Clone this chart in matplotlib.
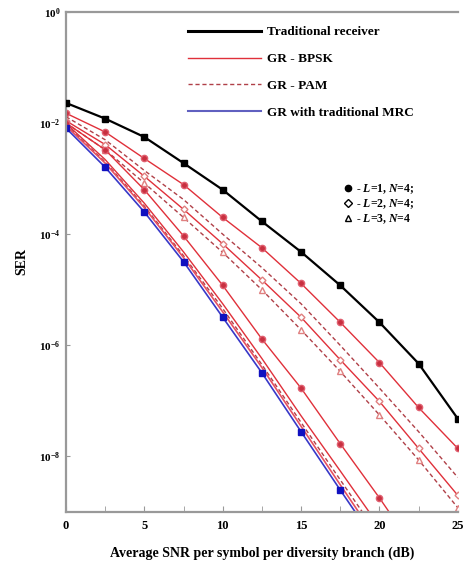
import numpy as np
import matplotlib
matplotlib.use('Agg')
import matplotlib.pyplot as plt
from matplotlib.lines import Line2D
from matplotlib.ticker import FixedLocator, NullLocator

plt.rcParams['font.family'] = ['Liberation Serif', 'DejaVu Serif']
plt.rcParams['font.weight'] = 'bold'
plt.rcParams['mathtext.fontset'] = 'custom'
plt.rcParams['mathtext.rm'] = 'Liberation Serif:bold'
plt.rcParams['mathtext.it'] = 'Liberation Serif:bold:italic'
plt.rcParams['mathtext.bf'] = 'Liberation Serif:bold'

# SNR points (dB)
snr = [0, 2.5, 5, 7.5, 10, 12.5, 15, 17.5, 20, 22.5, 25]

# traditional receiver
ser_trad = [2.3e-2, 1.2e-2, 5.6e-3, 1.9e-3, 6.3e-4, 1.7e-4, 4.8e-5, 1.2e-5, 2.6e-6, 4.7e-7, 4.8e-8]

# upper group of GR curves
ser_bpsk_l1 = [1.5e-2, 6.9e-3, 2.3e-3, 7.8e-4, 2.0e-4, 5.7e-5, 1.3e-5, 2.6e-6, 4.9e-7, 7.6e-8, 1.4e-8]
ser_pam_l1 = [1.3e-2, 5.0e-3, 1.4e-3, 4.2e-4, 1.0e-4, 2.5e-5, 5.6e-6, 1.0e-6, 1.7e-7, 2.8e-8, 4.2e-9]
ser_bpsk_l2 = [1.1e-2, 4.1e-3, 1.1e-3, 2.8e-4, 6.7e-5, 1.5e-5, 3.2e-6, 5.5e-7, 9.8e-8, 1.4e-8, 2.0e-9]
ser_pam_l2 = [1.0e-2, 3.3e-3, 8.3e-4, 2.0e-4, 4.7e-5, 1.0e-5, 1.9e-6, 3.4e-7, 5.6e-8, 8.7e-9, 1.2e-9]

# lower group
snr_low = [0, 2.5, 5, 7.5, 10, 12.5, 15, 17.5, 20, 22.5]
ser_bpsk_l3 = [1.0e-2, 3.3e-3, 6.3e-4, 9.3e-5, 1.2e-5, 1.3e-6, 1.7e-7, 1.7e-8, 1.8e-9, 1.7e-10]

snr_mrc = [0, 2.5, 5, 7.5, 10, 12.5, 15, 17.5, 20]
ser_mrc = [8.1e-3, 1.6e-3, 2.5e-4, 3.2e-5, 3.2e-6, 3.2e-7, 2.8e-8, 2.5e-9, 2.3e-10]
ser_low1 = [8.9e-3, 1.9e-3, 3.0e-4, 3.8e-5, 4.0e-6, 4.0e-7, 3.5e-8, 3.1e-9, 2.8e-10]
ser_low2 = [9.3e-3, 2.0e-3, 3.2e-4, 4.1e-5, 4.6e-6, 4.5e-7, 4.1e-8, 3.8e-9, 3.6e-10]
ser_low3 = [9.8e-3, 2.2e-3, 3.6e-4, 4.8e-5, 5.6e-6, 5.8e-7, 5.4e-8, 5.5e-9, 5.5e-10]

legend_labels = ['Traditional receiver', 'GR - BPSK', 'GR - PAM', 'GR with traditional MRC']
marker_labels = ['- $L$=1, $N$=4;', '- $L$=2, $N$=4;', '- $L$=3, $N$=4']
ytick_labels = ['$10^0$', '$10^{-2}$', '$10^{-4}$', '$10^{-6}$', '$10^{-8}$']

red = '#e0303a'
dred = '#b04048'
blue = '#3838c8'

fig = plt.figure(figsize=(4.68, 5.66), dpi=100)
ax = fig.add_axes([0.141, 0.0954, 0.837, 0.8836])

ax.semilogy(snr, ser_trad, color='black', lw=1.6, marker='s', ms=4.5, zorder=5)

ax.semilogy(snr, ser_bpsk_l1, color=red, lw=1.0, marker='o', ms=4.5, mfc='#c83040', mec='#e06070')
ax.semilogy(snr, ser_pam_l1, color=dred, lw=1.0, ls=(0, (3, 2)))
ax.semilogy(snr, ser_bpsk_l2, color=red, lw=1.0, marker='D', ms=3.5, mfc='white', mec='#e08080')
ax.semilogy(snr, ser_pam_l2, color=dred, lw=1.0, ls=(0, (3, 2)), marker='^', ms=4, mfc='white', mec='#e08080')

ax.semilogy(snr_low, ser_bpsk_l3, color=red, lw=1.0, marker='o', ms=4.5, mfc='#c83040', mec='#e06070')
ax.semilogy(snr_mrc, ser_low3, color=red, lw=1.0)
ax.semilogy(snr_mrc, ser_low2, color=dred, lw=1.0, ls=(0, (3, 2)))
ax.semilogy(snr_mrc, ser_low1, color='#e85060', lw=1.2)
ax.semilogy(snr_mrc, ser_mrc, color=blue, lw=1.2, marker='s', ms=5, mfc='#1010c0', mec='#1010c0')

ax.set_xlim(0, 25)
ax.set_ylim(1e-9, 1)
ax.xaxis.set_major_locator(FixedLocator([0, 5, 10, 15, 20, 25]))
ax.xaxis.set_minor_locator(FixedLocator([2.5, 7.5, 12.5, 17.5, 22.5]))
ax.yaxis.set_major_locator(FixedLocator([1e0, 1e-2, 1e-4, 1e-6, 1e-8]))
ax.yaxis.set_minor_locator(NullLocator())
ax.set_yticklabels(ytick_labels)
ax.tick_params(axis='both', which='both', direction='in', color='#999999')
ax.tick_params(axis='x', which='major', length=4, labelsize=9, pad=6)
ax.tick_params(axis='x', which='minor', length=4)
ax.tick_params(axis='y', length=3, labelsize=8, pad=4)

for side in ['left', 'bottom', 'top']:
    ax.spines[side].set_color('#999999')
    ax.spines[side].set_linewidth(1.6)
ax.spines['right'].set_visible(False)

ax.set_xlabel('Average SNR per symbol per diversity branch (dB)', fontsize=10, fontweight='bold', labelpad=10)
ax.set_ylabel('SER', fontsize=10, fontweight='bold', labelpad=8)

handles = [Line2D([], [], color='black', lw=2.2),
           Line2D([], [], color=red, lw=1.0),
           Line2D([], [], color=dred, lw=1.0, ls=(0, (3, 2))),
           Line2D([], [], color='#6060c0', lw=1.5)]
leg1 = ax.legend(handles, legend_labels, loc='upper left', bbox_to_anchor=(0.28, 0.995),
                 frameon=False, handlelength=5.6, handletextpad=0.4, labelspacing=1.1,
                 prop={'weight': 'bold', 'size': 9.5})
ax.add_artist(leg1)

mhandles = [Line2D([], [], ls='none', marker='o', ms=4.5, color='black'),
            Line2D([], [], ls='none', marker='D', ms=4, mfc='white', mec='black'),
            Line2D([], [], ls='none', marker='^', ms=4.5, mfc='white', mec='black')]
ax.legend(mhandles, marker_labels, loc='upper left', bbox_to_anchor=(0.685, 0.68),
          frameon=False, handlelength=0.6, handletextpad=0.3, labelspacing=0.1,
          prop={'weight': 'bold', 'size': 8.5})

fig.savefig('out.png', dpi=100)
